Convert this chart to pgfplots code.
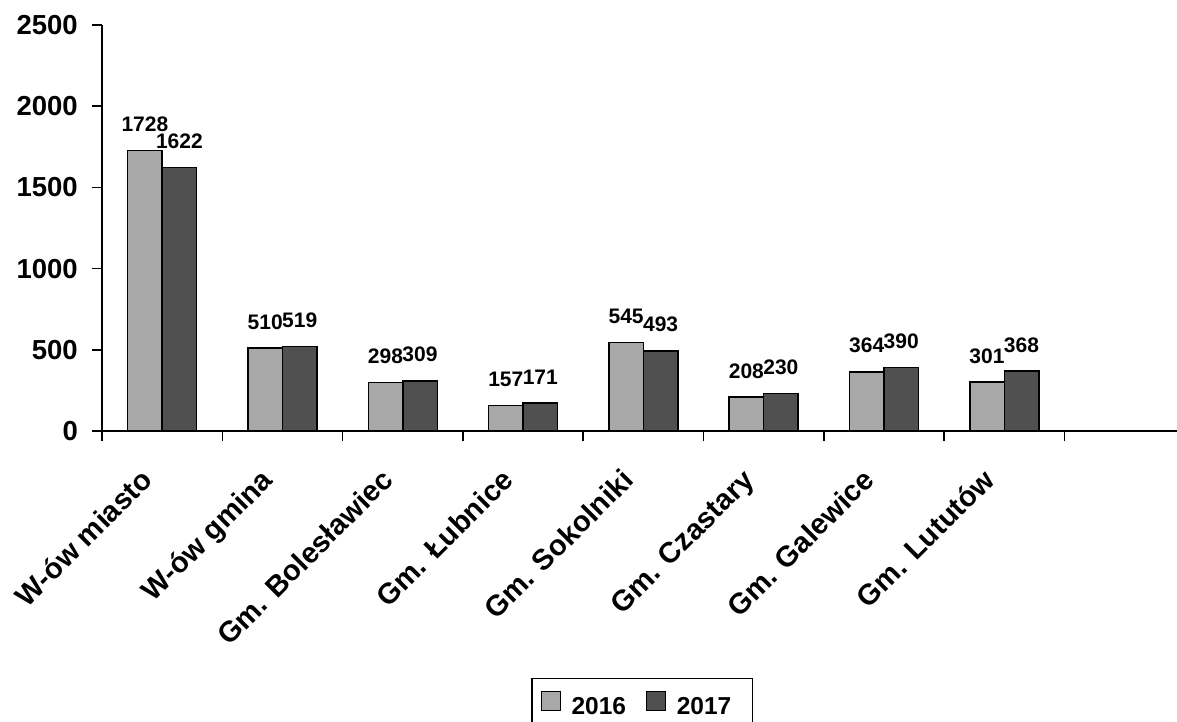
\documentclass[border=0pt]{standalone}
\usepackage{fontspec}
\setmainfont{Liberation Sans}
\usepackage{pgfplots}
\pgfplotsset{compat=1.18}
\usepackage{pgfplotstable}

\definecolor{bar16}{RGB}{168,168,168}
\definecolor{bar17}{RGB}{80,80,80}

% rok 2016 i 2017, kategorie 0..7
\pgfplotstableread{
x  y16   y17
0  1728  1622
1  510   519
2  298   309
3  157   171
4  545   493
5  208   230
6  364   390
7  301   368
}\dane

\newcommand{\fs}[1]{\fontsize{#1}{#1}\selectfont\bfseries}

\begin{document}
\begin{tikzpicture}
\begin{axis}[
    at={(102pt,-431pt)}, anchor=south west,
    scale only axis, width=1075pt, height=406pt,
    xmin=-0.5, xmax=8.436, ymin=0, ymax=2500,
    axis x line*=bottom, axis y line*=left,
    axis line style={line width=1.6pt},
    ytick={0,500,...,2500},
    xtick={0,...,7},
    xticklabels={W-ów miasto, W-ów gmina, Gm. Bolesławiec, Gm. Łubnice,
                 Gm. Sokolniki, Gm. Czastary, Gm. Galewice, Gm. Lututów},
    minor xtick={-0.5,0.5,...,8.5},
    major x tick style={draw=none},
    tick align=outside,
    major tick length=10pt, minor tick length=10pt,
    tick style={line width=1.6pt, black},
    /pgf/number format/assume math mode=true,
    /pgf/number format/1000 sep={},
    yticklabel style={font=\fs{27.5}, inner sep=0pt, xshift=-14pt},
    xticklabel style={font=\fs{29}, inner sep=0pt,
        text height=0.75em, text depth=0.2em,
        xshift=-10pt, yshift=-39pt, rotate=45, anchor=east},
    ybar, bar width=34.5pt,
    nodes near coords,
    every node near coord/.append style={font=\fs{21}, inner sep=0pt,
        anchor=south, yshift=18pt, black},
    legend columns=2,
    legend style={at={(axis description cs:0.399,-0.608)}, anchor=north west,
        draw=black, line width=1.6pt, font=\fs{24.5},
        inner xsep=9pt, inner ysep=12pt,
        nodes={inner sep=0pt},
        /tikz/every odd column/.append style={column sep=11pt},
        /tikz/every even column/.append style={column sep=20pt}},
    legend image code/.code={\draw[#1, line width=0.8pt] (0pt,-3pt) rectangle (19pt,16pt);},
]
\addplot[fill=bar16, draw=black, line width=1.5pt, bar shift=-17.25pt]
    table[x=x, y=y16] {\dane};
\addplot[fill=bar17, draw=black, line width=1.5pt, bar shift=17.25pt]
    table[x=x, y=y17] {\dane};
\legend{2016, 2017\rule{12pt}{0pt}}
\end{axis}
\pgfresetboundingbox
\path[use as bounding box] (0pt,0pt) rectangle (1177pt,-722pt);
\end{tikzpicture}
\end{document}
